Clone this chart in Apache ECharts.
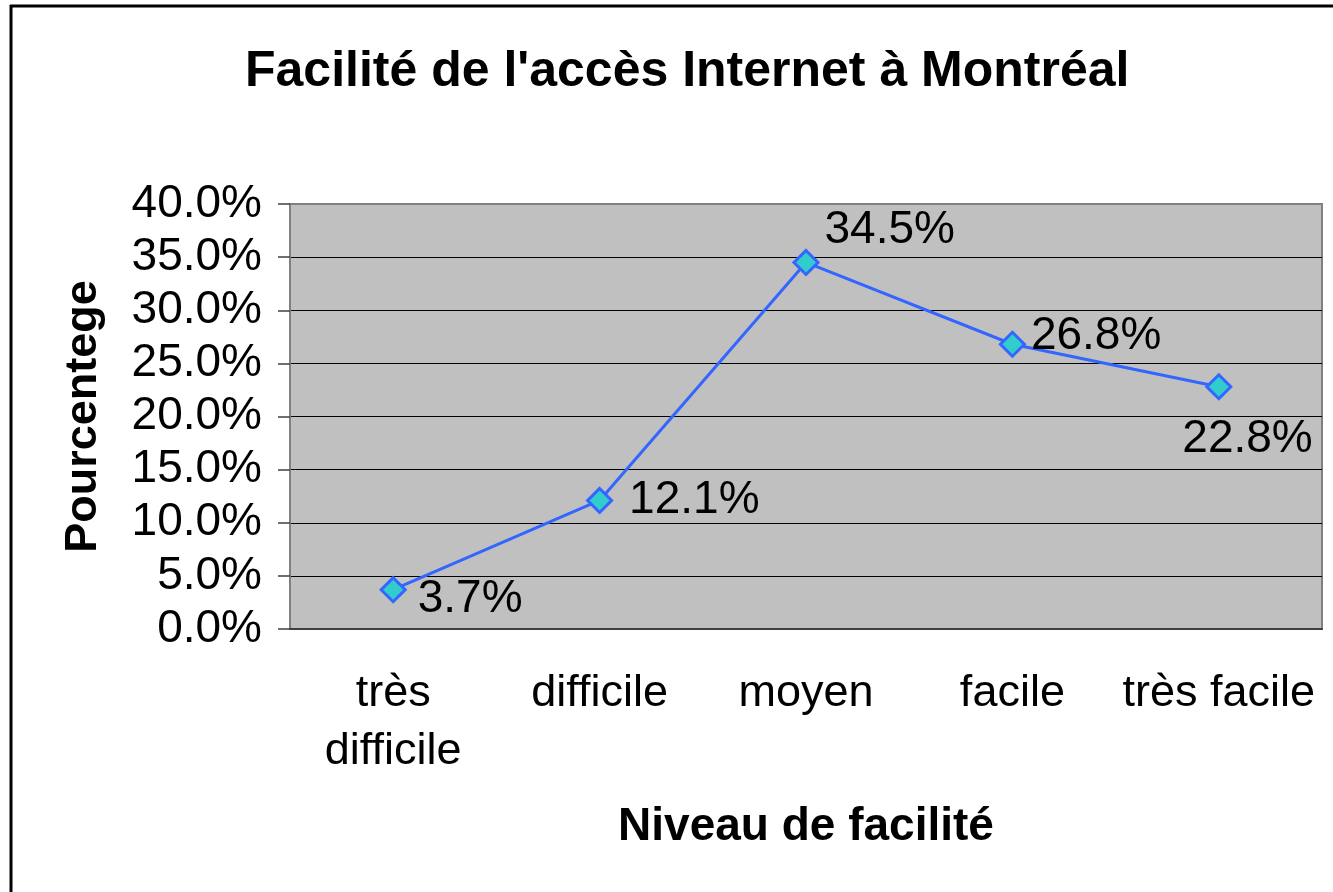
<!DOCTYPE html>
<html>
<head>
<meta charset="utf-8">
<script src="https://cdn.jsdelivr.net/npm/echarts@6/dist/echarts.min.js"></script>
<style>
html, body { margin: 0; padding: 0; background: #fff; }
#chart { width: 1333px; height: 892px; }
</style>
</head>
<body>
<div id="chart"></div>
<script>
// niveaux de facilité
const categories = ['très\ndifficile', 'difficile', 'moyen', 'facile', 'très facile']
// pourcentages (%)
const values = [3.7, 12.1, 34.5, 26.8, 22.8]
// placement des étiquettes: [position, offsetX, offsetY]
const labelPlace = [
  ['right', 11, 10],
  ['right', 16, 0],
  ['right', 5, -32],
  ['right', 5, -8],
  ['right', -50, 53]
]

const font = 'Liberation Sans, Arial, Helvetica, sans-serif'

const chart = echarts.init(document.getElementById('chart'))

chart.setOption({
  animation: false,
  title: {
    text: "Facilité de l'accès Internet à Montréal",
    left: 245,
    top: 47,
    padding: 0,
    textStyle: { fontFamily: font, fontWeight: 'bold', fontSize: 50, color: '#000' }
  },
  graphic: [
    { type: 'line', shape: { x1: 11, y1: 5, x2: 11, y2: 892 }, style: { stroke: '#000', lineWidth: 3 } },
    { type: 'line', shape: { x1: 10, y1: 6, x2: 1333, y2: 6 }, style: { stroke: '#000', lineWidth: 3 } }
  ],
  grid: {
    left: 290,
    right: 11,
    top: 204,
    bottom: 263,
    show: true,
    backgroundColor: '#c0c0c0',
    borderColor: '#808080',
    borderWidth: 2
  },
  xAxis: {
    type: 'category',
    data: categories,
    name: 'Niveau de facilité',
    nameLocation: 'middle',
    nameGap: 175,
    nameTextStyle: { fontFamily: font, fontWeight: 'bold', fontSize: 46, color: '#000' },
    axisLine: { lineStyle: { color: '#404040', width: 2 } },
    axisTick: { length: 10, lineStyle: { color: '#606060', width: 2 } },
    axisLabel: { fontFamily: font, fontSize: 45, color: '#000', margin: 36, lineHeight: 58, interval: 0 }
  },
  yAxis: {
    type: 'value',
    min: 0,
    max: 40,
    interval: 5,
    name: 'Pourcentege',
    nameLocation: 'middle',
    nameGap: 184,
    nameRotate: 90,
    nameTextStyle: { fontFamily: font, fontWeight: 'bold', fontSize: 45, color: '#000' },
    axisLine: { show: true, lineStyle: { color: '#808080', width: 2 } },
    axisTick: { show: true, length: 12, lineStyle: { color: '#404040', width: 1.5 } },
    axisLabel: {
      fontFamily: font, fontSize: 46, color: '#000', margin: 28,
      formatter: v => v.toFixed(1) + '%'
    },
    splitLine: {
      lineStyle: {
        color: ['#000', '#000', '#000', '#000', '#000', '#000', '#000', '#000', '#808080'],
        width: 1.2
      }
    }
  },
  series: [{
    type: 'line',
    data: values.map((v, i) => ({
      value: v,
      label: {
        position: labelPlace[i][0],
        offset: [labelPlace[i][1], labelPlace[i][2]]
      }
    })),
    lineStyle: { color: '#3366ff', width: 3 },
    symbol: 'diamond',
    symbolSize: 24,
    itemStyle: { color: '#33cccc', borderColor: '#3366ff', borderWidth: 3 },
    label: {
      show: true,
      distance: 0,
      fontFamily: font,
      fontSize: 46,
      color: '#000',
      formatter: p => p.value.toFixed(1) + '%'
    }
  }]
})
</script>
</body>
</html>
